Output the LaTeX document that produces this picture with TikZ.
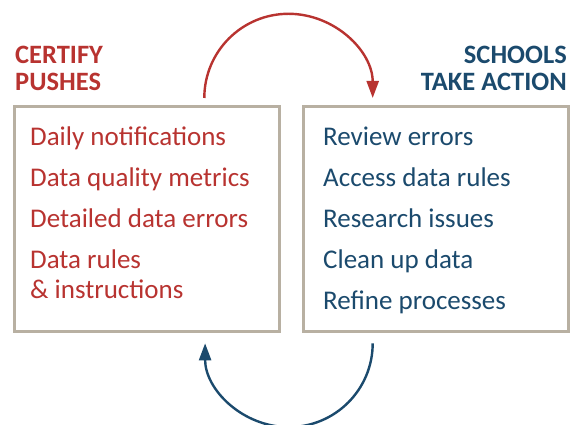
\documentclass[tikz,border=0pt]{standalone}
\usepackage{fontspec}
\setmainfont{Carlito}
\usetikzlibrary{arrows.meta}
\definecolor{cred}{HTML}{B83330}
\definecolor{cblue}{HTML}{1B4A6D}
\definecolor{cbox}{HTML}{B8B0A2}
\tikzset{
  panel/.style={draw=cbox, line width=3pt, minimum width=265pt, minimum height=225pt, inner sep=0pt},
  head/.style={font=\fontsize{26.5}{28}\selectfont\bfseries, inner sep=0pt},
  item/.style={font=\fontsize{27}{30}\selectfont, inner sep=0pt, anchor=base west},
  loop/.style={line width=2.4pt, -{Triangle[length=17pt,width=12pt]}},
}
\begin{document}
\begin{tikzpicture}[x=1pt,y=1pt]
\useasboundingbox (0,0) rectangle (574,425);
% boxes
\node[panel] (lbox) at (146.5,205.5) {};
\node[panel] (rbox) at (435.5,205.5) {};
% headings
\node[head, text=cred, anchor=base west] (h1) at (15,361) {CERTIFY};
\node[head, text=cred, anchor=base west] (h2) at (15,334) {PUSHES};
\node[head, text=cblue, anchor=base east] (h3) at (567,361) {SCHOOLS};
\node[head, text=cblue, anchor=base east] (h4) at (567,334) {TAKE ACTION};
% left items
\node[item, text=cred] (l1) at (30,279) {Daily notifications};
\node[item, text=cred] (l2) at (30,238) {Data quality metrics};
\node[item, text=cred] (l3) at (30,197) {Detailed data errors};
\node[item, text=cred] (l4) at (30,156) {Data rules};
\node[item, text=cred] (l5) at (30,126) {\& instructions};
% right items
\node[item, text=cblue] (r1) at (323,279) {Review errors};
\node[item, text=cblue] (r2) at (323,238) {Access data rules};
\node[item, text=cblue] (r3) at (323,197) {Research issues};
\node[item, text=cblue] (r4) at (323,156) {Clean up data};
\node[item, text=cblue] (r5) at (323,115) {Refine processes};
% loops
\coordinate (ta) at (204.3,327);
\coordinate (tb) at (372.7,327);
\coordinate (ba) at (372.7,81.7);
\coordinate (bb) at (205.1,81.7);
\draw[loop, draw=cred] (ta) arc[start angle=180, end angle=0, radius=84.2];
\draw[loop, draw=cblue] (ba) arc[start angle=0, end angle=-180, radius=83.8];
\end{tikzpicture}
\end{document}
